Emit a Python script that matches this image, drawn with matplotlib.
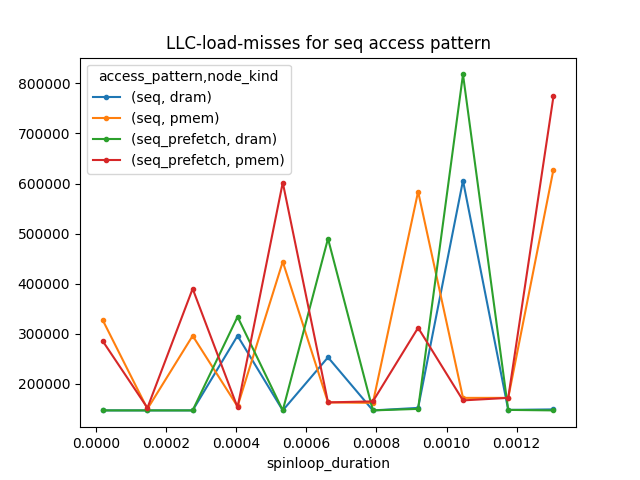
import matplotlib
matplotlib.use('Agg')
import matplotlib.pyplot as plt

spinloop = [0.000019, 0.000147, 0.000276, 0.000404, 0.000533, 0.000662,
            0.000790, 0.000919, 0.001047, 0.001176, 0.001305]

seq_dram = [147000, 147000, 147000, 296000, 147000, 253000,
            147000, 152000, 606000, 148000, 149000]
seq_pmem = [328000, 150000, 296000, 155000, 444000, 163000,
            162000, 584000, 172000, 172000, 628000]
pref_dram = [147000, 147000, 147000, 334000, 147000, 490000,
             147000, 150000, 818000, 148000, 147000]
pref_pmem = [286000, 152000, 390000, 153000, 602000, 163000,
             165000, 312000, 167000, 172000, 774000]

labels = ['(seq, dram)', '(seq, pmem)', '(seq_prefetch, dram)', '(seq_prefetch, pmem)']

fig, ax = plt.subplots(figsize=(6.4, 4.8), dpi=100)
for ys, lab in zip([seq_dram, seq_pmem, pref_dram, pref_pmem], labels):
    ax.plot(spinloop, ys, '.-', label=lab)
ax.set_xlabel('spinloop_duration')
ax.set_title('LLC-load-misses for seq access pattern')
ax.legend(title='access_pattern,node_kind', loc='upper left')
fig.savefig('out.png')
